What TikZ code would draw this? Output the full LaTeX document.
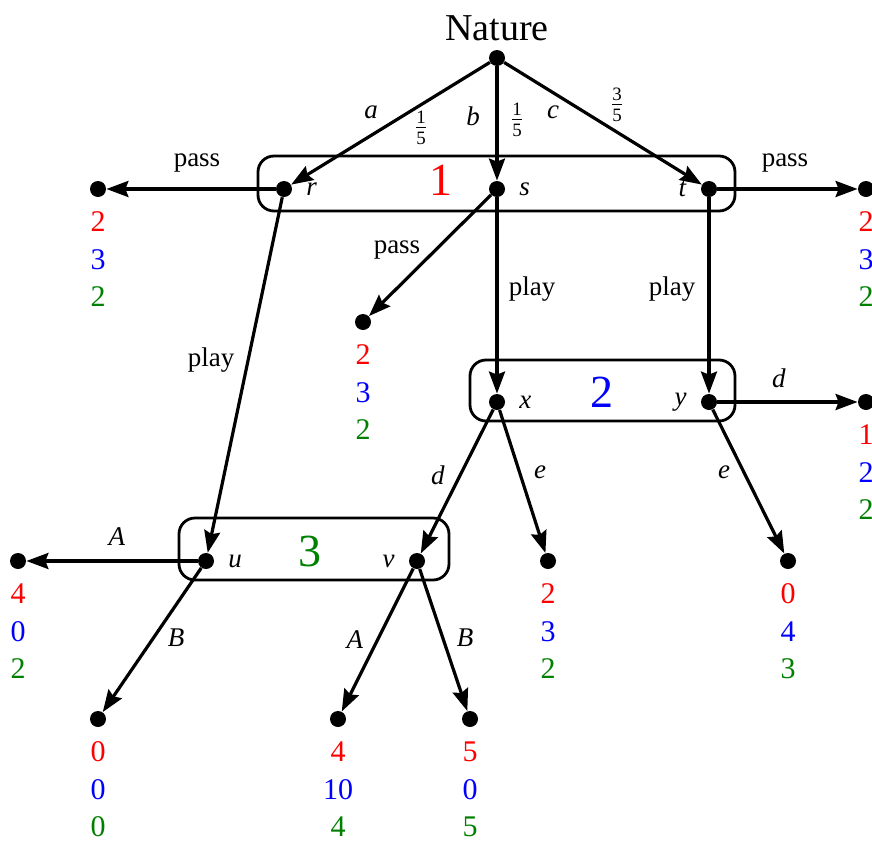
\documentclass[tikz,border=0pt]{standalone}
\usepackage{amsmath}
\usepackage{fontspec}
\setmainfont{Liberation Serif}
\newfontfamily\treefont{Liberation Serif}
\usetikzlibrary{arrows.meta,calc}

\definecolor{pone}{RGB}{255,0,0}
\definecolor{ptwo}{RGB}{0,0,255}
\definecolor{pthree}{RGB}{0,128,0}

% payoffs below a terminal node
\newcommand{\payoffs}[4]{%
  \node[payoff,text=pone]   (#1-1) at ($(#1)+(0,33)$)    {#2};
  \node[payoff,text=ptwo]   (#1-2) at ($(#1)+(0,70.5)$)  {#3};
  \node[payoff,text=pthree] (#1-3) at ($(#1)+(0,108)$)   {#4};}

\begin{document}
\begin{tikzpicture}[x=0.5bp,y=-0.5bp,
  font=\treefont\fontsize{13.5bp}{16bp}\selectfont,
  dot/.style={circle,fill,inner sep=0pt,minimum size=8bp},
  move/.style={-{Stealth[length=11bp,width=8bp,inset=1.5bp]},line width=1.6bp},
  infoset/.style={line width=1.4bp,rounded corners=8bp},
  payoff/.style={font=\treefont\fontsize{15bp}{18bp}\selectfont,inner sep=0pt},
  player/.style={font=\treefont\fontsize{23bp}{26bp}\selectfont},
  every label/.style={label distance=3.5bp}]
\useasboundingbox (0,0) rectangle (872,841);

% information sets
\draw[infoset] (258,156) rectangle (735,211);
\draw[infoset] (470,360) rectangle (735,421);
\draw[infoset] (179,518) rectangle (449,580);
\node[player,text=pone]   (set1) at (441,180) {1};
\node[player,text=ptwo]   (set2) at (602,392) {2};
\node[player,text=pthree] (set3) at (310,551) {3};

% decision nodes
\node[dot,label={[label distance=1bp]above:\fontsize{19bp}{22bp}\selectfont Nature}] (nat) at (497,58) {};
\node[dot,label={right:\textit{r}}] (r) at (284,189) {};
\node[dot,label={right:\textit{s}}] (s) at (497,189) {};
\node[dot,label={left:\textit{t}}]  (t) at (709,189) {};
\node[dot,label={right:\textit{x}}] (x) at (497,402) {};
\node[dot,label={left:\textit{y}}]  (y) at (709,402) {};
\node[dot,label={right:\textit{u}}] (u) at (206,561) {};
\node[dot,label={left:\textit{v}}]  (v) at (417,561) {};

% terminal nodes
\node[dot] (rp) at (98,189) {};
\node[dot] (tp) at (866,189) {};
\node[dot] (sp) at (363,322) {};
\node[dot] (yd) at (866,402) {};
\node[dot] (xe) at (548,561) {};
\node[dot] (ye) at (788,561) {};
\node[dot] (ua) at (18,561) {};
\node[dot] (ub) at (98,719) {};
\node[dot] (va) at (338,719) {};
\node[dot] (vb) at (470,719) {};

% moves
\draw[move] (nat) -- (r);
\draw[move] (nat) -- (s);
\draw[move] (nat) -- (t);
\draw[move] (r) -- (rp);
\draw[move] (r) -- (u);
\draw[move] (s) -- (sp);
\draw[move] (s) -- (x);
\draw[move] (t) -- (tp);
\draw[move] (t) -- (y);
\draw[move] (x) -- (v);
\draw[move] (x) -- (xe);
\draw[move] (y) -- (yd);
\draw[move] (y) -- (ye);
\draw[move] (u) -- (ua);
\draw[move] (u) -- (ub);
\draw[move] (v) -- (va);
\draw[move] (v) -- (vb);

% move labels
\node (la) at (371,112) {\textit{a}};
\node (pa) at (421,128) {$\frac{\text{1}}{\text{5}}$};
\node (lb) at (473,116) {\textit{b}};
\node (pb) at (517,120) {$\frac{\text{1}}{\text{5}}$};
\node (lc) at (553,112) {\textit{c}};
\node (pc) at (617,105) {$\frac{\text{3}}{\text{5}}$};
\node (lrp) at (197,163) {pass};
\node (ltp) at (785,163) {pass};
\node (lsp) at (397,250) {pass};
\node (lsx) at (532,289) {play};
\node (lty) at (672,289) {play};
\node (lru) at (211,360) {play};
\node (lxd) at (438,475) {\textit{d}};
\node (lxe) at (540,472) {\textit{e}};
\node (lyd) at (779,378) {\textit{d}};
\node (lye) at (724,472) {\textit{e}};
\node (lua) at (117,537) {\textit{A}};
\node (lub) at (176,638) {\textit{B}};
\node (lva) at (355,640) {\textit{A}};
\node (lvb) at (465,638) {\textit{B}};

% payoffs
\payoffs{rp}{2}{3}{2}
\payoffs{tp}{2}{3}{2}
\payoffs{sp}{2}{3}{2}
\payoffs{yd}{1}{2}{2}
\payoffs{xe}{2}{3}{2}
\payoffs{ye}{0}{4}{3}
\payoffs{ua}{4}{0}{2}
\payoffs{ub}{0}{0}{0}
\payoffs{va}{4}{10}{4}
\payoffs{vb}{5}{0}{5}
\end{tikzpicture}
\end{document}
